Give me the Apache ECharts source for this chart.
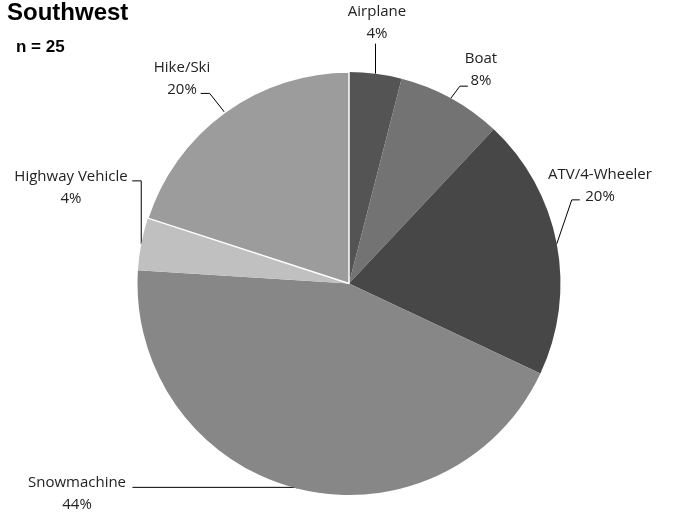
<!DOCTYPE html>
<html>
<head>
<meta charset="utf-8">
<script src="https://cdn.jsdelivr.net/npm/echarts@6/dist/echarts.min.js"></script>
<style>
  html, body { margin: 0; padding: 0; background: #fff; }
  #chart { width: 675px; height: 514px; }
</style>
</head>
<body>
<div id="chart"></div>
<script>
// ---- data (counts; n = 25) ----
var categories = ['Airplane', 'Boat', 'ATV/4-Wheeler', 'Snowmachine', 'Highway Vehicle', 'Hike/Ski'];
var counts = [1, 2, 5, 11, 1, 5];
var titleText = 'Southwest';
var subText = 'n = 25';

// ---- styling / layout ----
var colors = ['#545454', '#737373', '#474747', '#878787', '#c0c0c0', '#9c9c9c'];
var borderWidths = [0, 0, 0, 0, 0, 1.5];
// label centre position and leader-line shape (elbow offset from slice edge, horizontal tail)
var labelCfg = [
  { pos: [377, 23],  elbow: [0, -30],  tail: 0 },
  { pos: [481, 70],  elbow: [9, -12],  tail: 8 },
  { pos: [600, 186], elbow: [15, -44], tail: 8 },
  { pos: [77, 494],  elbow: [0, -1],   tail: -164 },
  { pos: [71, 188],  elbow: [0, -63],  tail: -9 },
  { pos: [182, 79],  elbow: [-15, -19], tail: -9 }
];

var pieData = categories.map(function (c, i) {
  return { name: c, value: counts[i],
    itemStyle: { color: colors[i], borderColor: '#ffffff', borderWidth: borderWidths[i] } };
});

var chart = echarts.init(document.getElementById('chart'), null, { renderer: 'canvas' });
chart.setOption({
  animation: false,
  title: [
    { text: titleText, left: 7, top: 1, padding: 0,
      textStyle: { fontFamily: 'Liberation Sans', fontSize: 24, fontWeight: 'bold', color: '#000' } },
    { text: subText, left: 16, top: 39, padding: 0,
      textStyle: { fontFamily: 'Liberation Sans', fontSize: 17, fontWeight: 'bold', color: '#000' } }
  ],
  series: [{
    type: 'pie',
    center: [349, 283.5],
    radius: 211.5,
    startAngle: 90,
    clockwise: true,
    percentPrecision: 0,
    avoidLabelOverlap: false,
    silent: true,
    emphasis: { disabled: true },
    label: {
      show: true,
      position: 'outside',
      formatter: '{b}\n{d}%',
      fontFamily: 'Open Sans',
      fontSize: 15,
      lineHeight: 22,
      color: '#222',
      align: 'center'
    },
    labelLine: { show: true, length: 10, length2: 10, smooth: false,
      lineStyle: { color: '#000', width: 1 } },
    labelLayout: function (p) {
      var cfg = labelCfg[p.dataIndex];
      var res = { x: cfg.pos[0], y: cfg.pos[1], align: 'center', verticalAlign: 'middle' };
      if (p.labelLinePoints && p.labelLinePoints.length) {
        var a = p.labelLinePoints[0];
        var e = [a[0] + cfg.elbow[0], a[1] + cfg.elbow[1]];
        res.labelLinePoints = [a, e, [e[0] + cfg.tail, e[1]]];
      }
      return res;
    },
    data: pieData
  }]
});
</script>
</body>
</html>
